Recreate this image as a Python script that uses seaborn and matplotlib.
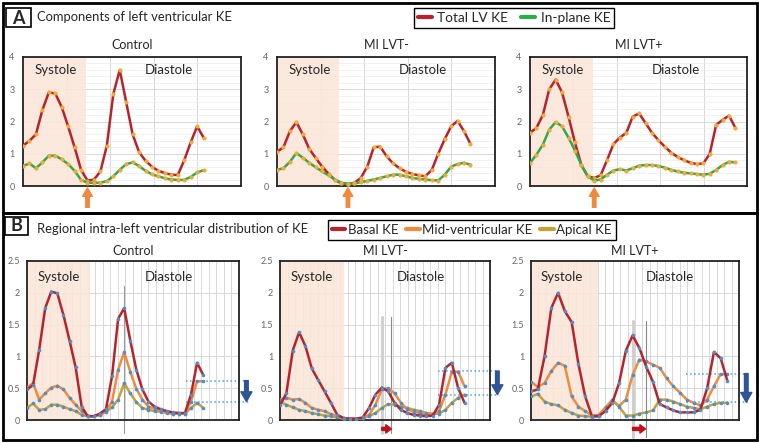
import numpy as np
import matplotlib.pyplot as plt
import seaborn as sns
from matplotlib.patches import Rectangle
from matplotlib.lines import Line2D
from matplotlib.ticker import MultipleLocator

sns.set_theme(style='white')
plt.rcParams['font.family'] = ['Lato', 'DejaVu Sans']

groups = ['Control', 'MI LVT-', 'MI LVT+']

# Panel A - components of LV kinetic energy
total_ke = {
    'Control': [1.25, 1.4, 1.6, 2.35, 2.9, 2.87, 2.45, 1.85, 1.2, 0.5, 0.17, 0.2, 0.45, 1.25, 2.85,
                3.6, 2.6, 1.6, 1.05, 0.78, 0.6, 0.47, 0.4, 0.35, 0.34, 0.8, 1.35, 1.85, 1.5],
    'MI LVT-': [1.06, 1.2, 1.7, 1.98, 1.6, 1.15, 0.87, 0.6, 0.38, 0.18, 0.08, 0.06, 0.1, 0.25, 0.6,
                1.2, 1.22, 0.92, 0.7, 0.55, 0.44, 0.37, 0.33, 0.3, 0.5, 1.0, 1.45, 1.85, 2.02, 1.7, 1.3],
    'MI LVT+': [1.65, 1.8, 2.2, 3.0, 3.3, 2.9, 2.15, 1.35, 0.65, 0.3, 0.25, 0.33, 0.8, 1.3, 1.5, 1.65,
                2.15, 2.25, 1.95, 1.65, 1.42, 1.22, 1.03, 0.9, 0.8, 0.72, 0.68, 0.7, 1.0, 1.9, 2.05, 2.18, 1.8],
}
inplane_ke = {
    'Control': [0.62, 0.7, 0.55, 0.73, 0.94, 0.94, 0.83, 0.68, 0.47, 0.19, 0.1, 0.1, 0.1, 0.15, 0.3,
                0.5, 0.68, 0.73, 0.62, 0.47, 0.36, 0.3, 0.24, 0.2, 0.19, 0.19, 0.28, 0.42, 0.49],
    'MI LVT-': [0.5, 0.55, 0.75, 1.02, 0.88, 0.72, 0.58, 0.45, 0.33, 0.2, 0.1, 0.07, 0.08, 0.12, 0.16,
                0.2, 0.25, 0.3, 0.35, 0.35, 0.3, 0.25, 0.22, 0.2, 0.18, 0.17, 0.35, 0.6, 0.68, 0.72, 0.66],
    'MI LVT+': [0.71, 0.97, 1.28, 1.75, 1.98, 1.85, 1.5, 1.1, 0.65, 0.3, 0.17, 0.2, 0.35, 0.48, 0.52, 0.48,
                0.55, 0.63, 0.65, 0.65, 0.62, 0.57, 0.5, 0.45, 0.41, 0.39, 0.37, 0.35, 0.38, 0.5, 0.65, 0.75, 0.73],
}
min_frame_a = {'Control': 10, 'MI LVT-': 11, 'MI LVT+': 10}

# Panel B - regional distribution of KE
basal_ke = {
    'Control': [0.48, 0.55, 1.1, 1.76, 2.02, 1.99, 1.65, 1.25, 0.83, 0.21, 0.06, 0.06, 0.1, 0.17, 0.69,
                1.59, 1.76, 1.25, 0.79, 0.48, 0.29, 0.21, 0.17, 0.14, 0.12, 0.11, 0.11, 0.4, 0.9, 0.71],
    'MI LVT-': [0.23, 0.42, 1.09, 1.38, 1.16, 0.81, 0.63, 0.45, 0.27, 0.08, 0.03, 0.02, 0.02, 0.04, 0.19,
                0.4, 0.51, 0.45, 0.27, 0.16, 0.11, 0.08, 0.07, 0.06, 0.07, 0.24, 0.82, 0.9, 0.5, 0.27],
    'MI LVT+': [0.45, 0.48, 1.0, 1.76, 2.0, 1.71, 1.54, 0.88, 0.37, 0.06, 0.06, 0.14, 0.27, 0.58, 1.09,
                1.33, 1.13, 0.84, 0.6, 0.25, 0.2, 0.15, 0.12, 0.12, 0.12, 0.16, 0.5, 1.07, 0.97, 0.61],
}
mid_ke = {
    'Control': [0.51, 0.58, 0.32, 0.42, 0.51, 0.54, 0.48, 0.35, 0.24, 0.14, 0.06, 0.06, 0.08, 0.14, 0.29,
                0.79, 1.07, 0.76, 0.49, 0.32, 0.21, 0.18, 0.14, 0.12, 0.1, 0.1, 0.1, 0.29, 0.61, 0.61],
    'MI LVT-': [0.32, 0.35, 0.32, 0.33, 0.27, 0.19, 0.16, 0.14, 0.09, 0.06, 0.03, 0.02, 0.02, 0.03, 0.08,
                0.24, 0.48, 0.5, 0.42, 0.27, 0.17, 0.13, 0.11, 0.09, 0.09, 0.14, 0.4, 0.76, 0.76, 0.53],
    'MI LVT+': [0.6, 0.52, 0.58, 0.77, 0.9, 0.85, 0.37, 0.21, 0.14, 0.07, 0.08, 0.2, 0.3, 0.22, 0.32,
                0.71, 0.95, 0.92, 0.87, 0.82, 0.66, 0.53, 0.43, 0.32, 0.27, 0.23, 0.32, 0.53, 0.72, 0.72],
}
apical_ke = {
    'Control': [0.19, 0.26, 0.16, 0.17, 0.24, 0.24, 0.21, 0.17, 0.14, 0.08, 0.06, 0.06, 0.08, 0.13, 0.2,
                0.32, 0.58, 0.42, 0.28, 0.19, 0.16, 0.14, 0.13, 0.11, 0.1, 0.1, 0.1, 0.19, 0.27, 0.19],
    'MI LVT-': [0.29, 0.24, 0.2, 0.16, 0.14, 0.11, 0.09, 0.07, 0.06, 0.04, 0.02, 0.02, 0.02, 0.03, 0.06,
                0.11, 0.19, 0.25, 0.24, 0.21, 0.19, 0.16, 0.14, 0.11, 0.1, 0.1, 0.16, 0.27, 0.35, 0.4],
    'MI LVT+': [0.37, 0.41, 0.29, 0.25, 0.23, 0.16, 0.11, 0.07, 0.06, 0.05, 0.06, 0.19, 0.32, 0.21, 0.07,
                0.07, 0.1, 0.12, 0.15, 0.32, 0.32, 0.29, 0.25, 0.21, 0.19, 0.17, 0.21, 0.25, 0.27, 0.27],
}
peak_frames_b = {'Control': [16], 'MI LVT-': [16, 17.5], 'MI LVT+': [15, 16.9]}
late_levels_b = {'Control': (0.62, 0.29), 'MI LVT-': (0.77, 0.4), 'MI LVT+': (0.73, 0.28)}

# colours
RED = '#B8232B'
GREEN = '#2EAA4A'
ORANGE = '#F08A3C'
GOLD = '#C7A032'
DOT_A = '#F2A93B'
DOT_B = '#4C8FCF'
SHADE = '#FCE6D8'

W, H = 762, 443
fig = plt.figure(figsize=(W / 100, H / 100), dpi=100)


def px(x0, y0, x1, y1):
    return [x0 / W, 1 - y1 / H, (x1 - x0) / W, (y1 - y0) / H]


def frame_box(x0, y0, x1, y1, lw=2.0, fc='none'):
    fig.patches.append(Rectangle((x0 / W, 1 - y1 / H), (x1 - x0) / W, (y1 - y0) / H,
                                 transform=fig.transFigure, fill=fc != 'none', facecolor=fc,
                                 edgecolor='black', lw=lw, zorder=5))


def style_axes(ax, xmax, ymax, ystep, yminor, xgrid, sys_frac):
    ax.set_xlim(0, xmax)
    ax.set_ylim(0, ymax)
    ax.set_yticks(np.arange(0, ymax + 0.01, ystep))
    ax.set_yticklabels([f'{v:g}' for v in np.arange(0, ymax + 0.01, ystep)])
    if yminor:
        ax.yaxis.set_minor_locator(MultipleLocator(yminor))
    ax.set_xticks(xgrid)
    ax.set_xticklabels([])
    ax.tick_params(axis='both', which='both', length=0, labelsize=6.5, labelcolor='#666666', pad=6)
    ax.grid(True, which='major', color='#D8D8D8', lw=0.7)
    ax.grid(True, which='minor', axis='y', color='#EDEDED', lw=0.5)
    ax.set_axisbelow(True)
    for s in ax.spines.values():
        s.set_color('#222222')
        s.set_linewidth(1.3)
    ax.axvspan(0, sys_frac * xmax, color=SHADE, alpha=0.85, lw=0, zorder=0.6)
    ax.text(0.15, 0.9, 'Systole', transform=ax.transAxes, ha='center', va='center', fontsize=9.5)
    ax.text(0.67, 0.9, 'Diastole', transform=ax.transAxes, ha='center', va='center', fontsize=9.5)
    ax.set_xlabel('')
    ax.set_ylabel('')


# ---------- panel A ----------
frame_box(3, 3, 757, 213)
frame_box(6, 8, 31, 27, lw=1.2, fc='white')
fig.text(18.5 / W, 1 - 18 / H, 'A', fontsize=13, fontweight='bold', ha='center', va='center', zorder=6)
fig.text(37 / W, 1 - 17 / H, 'Components of left ventricular KE', fontsize=9.4, va='center')

axes_a = [(23, 57, 241, 186), (277, 57, 495, 186), (530, 57, 747, 186)]
sys_a = [0.29, 0.285, 0.29]
for g, pos, sf in zip(groups, axes_a, sys_a):
    ax = fig.add_axes(px(*pos))
    xmax = 33.8
    style_axes(ax, xmax, 4, 1, 0.2, [xmax * k / 5 for k in range(1, 5)], sf)
    sns.lineplot(x=np.arange(len(total_ke[g])), y=total_ke[g], ax=ax, color=RED, lw=1.8,
                 marker='o', markersize=3, markerfacecolor=DOT_A, markeredgewidth=0, zorder=3)
    sns.lineplot(x=np.arange(len(inplane_ke[g])), y=inplane_ke[g], ax=ax, color=GREEN, lw=1.8,
                 marker='o', markersize=3, markerfacecolor=DOT_A, markeredgewidth=0, zorder=3)
    ax.set_title(g, fontsize=9, pad=6)
    xf = min_frame_a[g]
    ax.annotate('', xy=(xf, -0.015), xycoords=('data', 'axes fraction'),
                xytext=(xf, -0.165), textcoords=('data', 'axes fraction'),
                arrowprops=dict(color=ORANGE, width=2.5, headwidth=7, headlength=6, shrink=0),
                annotation_clip=False)

fig.legend(handles=[Line2D([], [], color=RED, lw=3), Line2D([], [], color=GREEN, lw=3)],
           labels=['Total LV KE', 'In-plane KE'], loc='upper center',
           bbox_to_anchor=(514 / W, 1 - 1 / H), ncol=2, fontsize=9.8, handlelength=1.0,
           handletextpad=0.4, columnspacing=1.0, frameon=True, fancybox=False,
           edgecolor='black', borderpad=0.3, framealpha=1)

# ---------- panel B ----------
frame_box(3, 213, 757, 440)
frame_box(5, 217, 28, 235, lw=1.2, fc='white')
fig.text(16.5 / W, 1 - 226 / H, 'B', fontsize=13, fontweight='bold', ha='center', va='center', zorder=6)
fig.text(37 / W, 1 - 229 / H, 'Regional intra-left ventricular distribution of KE', fontsize=9.4, va='center')

axes_b = [(27, 261, 239, 420), (280, 261, 490, 420), (531, 261, 739, 420)]
xmax_b = [34.9, 33.0, 30.7]
sys_b = [0.296, 0.305, 0.324]
vline_span = {'Control': (-0.08, 0.845), 'MI LVT-': (-0.08, 0.65), 'MI LVT+': (-0.11, 0.62)}
for g, pos, xmax, sf in zip(groups, axes_b, xmax_b, sys_b):
    ax = fig.add_axes(px(*pos))
    style_axes(ax, xmax, 2.5, 0.5, None, [xmax * k / 28 for k in range(1, 28)], sf)
    ax.tick_params(axis='y', pad=5)
    for series, col in [(apical_ke, GOLD), (mid_ke, ORANGE), (basal_ke, RED)]:
        sns.lineplot(x=np.arange(len(series[g])), y=series[g], ax=ax, color=col, lw=1.8,
                     marker='o', markersize=2.6, markerfacecolor=DOT_B, markeredgewidth=0, zorder=3)
    ax.set_title(g, fontsize=9, pad=4)
    y0, y1 = vline_span[g]
    pk = peak_frames_b[g]
    if len(pk) == 1:
        ax.axvline(pk[0], ymin=y0, ymax=y1, color='#9A9A9A', lw=0.8, clip_on=False, zorder=2)
    else:
        ax.axvline(pk[0], ymin=y0, ymax=y1, color='#D0D0D0', lw=2.2, clip_on=False, zorder=2)
        ax.axvline(pk[1], ymin=y0, ymax=y1, color='#8A8A8A', lw=0.8, clip_on=False, zorder=2)
        ax.annotate('', xy=(pk[1], -0.056), xycoords=('data', 'axes fraction'),
                    xytext=(pk[0], -0.056), textcoords=('data', 'axes fraction'),
                    arrowprops=dict(color='#C0101A', width=2.2, headwidth=6, headlength=4, shrink=0),
                    annotation_clip=False)
    hi, lo = late_levels_b[g]
    x_start = {'Control': 26.2, 'MI LVT-': 24.9, 'MI LVT+': 22.9}[g]
    x_end = xmax * 1.045
    for lev in (hi, lo):
        ax.plot([x_start, x_end], [lev, lev], ls=':', color='#4FA3DA', lw=1.1, clip_on=False, zorder=2)
    ax.annotate('', xy=(xmax * 1.035, lo), xytext=(xmax * 1.035, hi),
                arrowprops=dict(color='#2F5597', width=2.6, headwidth=8, headlength=7, shrink=0),
                annotation_clip=False)

fig.legend(handles=[Line2D([], [], color=RED, lw=3), Line2D([], [], color=ORANGE, lw=3),
                    Line2D([], [], color=GOLD, lw=3)],
           labels=['Basal KE', 'Mid-ventricular KE', 'Apical KE'], loc='upper center',
           bbox_to_anchor=(472 / W, 1 - 213 / H), ncol=3, fontsize=9.5, handlelength=1.0,
           handletextpad=0.2, columnspacing=0.6, frameon=True, fancybox=False,
           edgecolor='black', borderpad=0.3, framealpha=1)

fig.savefig('out.png', dpi=100)
